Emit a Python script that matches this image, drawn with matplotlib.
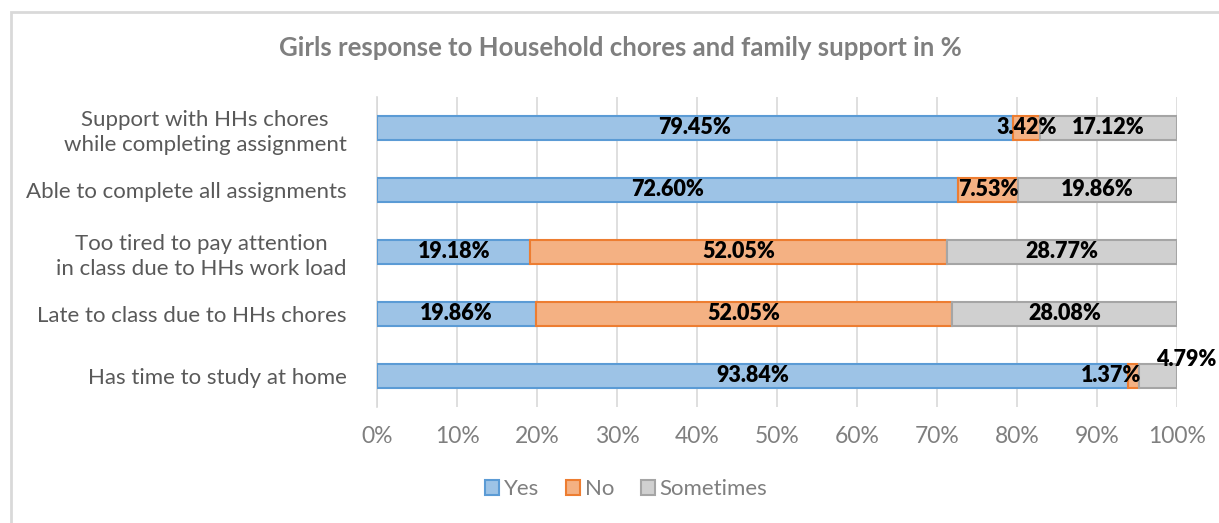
import matplotlib.pyplot as plt
from matplotlib.patches import Rectangle

# Data (top to bottom as shown)
questions = ['Support with HHs chores\nwhile completing assignment',
             'Able to complete all assignments',
             'Too tired to pay attention\nin class due to HHs work load',
             'Late to class due to HHs chores',
             'Has time to study at home']
yes = [79.45, 72.60, 19.18, 19.86, 93.84]
no = [3.42, 7.53, 52.05, 52.05, 1.37]
sometimes = [17.12, 19.86, 28.77, 28.08, 4.79]
ticks = [0, 10, 20, 30, 40, 50, 60, 70, 80, 90, 100]

plt.rcParams['font.family'] = ['Lato', 'DejaVu Sans']

fig = plt.figure(figsize=(12.19, 5.23), dpi=100)
W, H = 1219, 523
ax = fig.add_axes([377 / W, 1 - 407 / H, 800 / W, 310 / H])

ypos = list(range(len(questions)))[::-1]
series = [('Yes', yes, '#9DC3E6', '#5B9BD5'),
          ('No', no, '#F4B183', '#ED7D31'),
          ('Sometimes', sometimes, '#D0D0D0', '#A5A5A5')]
left = [0] * len(questions)
for name, vals, fc, ec in series:
    ax.barh(ypos, vals, left=left, height=0.39, color=fc, edgecolor=ec,
            linewidth=1.5, label=name, zorder=3)
    for i, v in enumerate(vals):
        x = left[i] + v / 2
        y = ypos[i]
        dx, dy = 0, 0
        if i == 4 and name == 'No':
            dx = -2.8
        if i == 4 and name == 'Sometimes':
            dx, dy = 3.6, 0.27
        ax.text(x + dx, y + dy, f'{v:.2f}%', ha='center', va='center',
                fontsize=15.5, fontweight='heavy', color='black', zorder=5)
    left = [l + v for l, v in zip(left, vals)]

ax.set_xlim(0, 100)
ax.set_ylim(-0.5, 4.5)
ax.set_xticks(ticks)
ax.set_xticklabels([f'{t}%' for t in ticks], fontsize=16.5, color='#7F7F7F')
ax.set_yticks(ypos)
ax.set_yticklabels(questions, fontsize=16, color='#595959', ha='right',
                   multialignment='center', linespacing=1.3)
ax.tick_params(axis='y', length=0, pad=22)
ax.tick_params(axis='x', length=0, pad=14)
ax.xaxis.grid(True, color='#D9D9D9', linewidth=1.2, zorder=0)
for s in ['top', 'right', 'bottom']:
    ax.spines[s].set_visible(False)
ax.spines['left'].set_color('#D9D9D9')
ax.spines['left'].set_linewidth(1.2)

fig.text(620 / W, 1 - 48 / H, 'Girls response to Household chores and family support in %',
         ha='center', va='center', fontsize=18.5, fontweight='bold', color='#7F7F7F')

leg = fig.legend(loc='center', bbox_to_anchor=(626 / W, 1 - 489 / H), ncol=3,
                 frameon=False, fontsize=16, handlelength=0.65, handleheight=0.65,
                 handletextpad=0.2, columnspacing=1.2, labelcolor='#7F7F7F')

fig.patches.append(Rectangle((11 / W, -0.1), 2, 1.1 - 12 / H,
                             transform=fig.transFigure, fill=False,
                             edgecolor='#D9D9D9', linewidth=2))

fig.savefig('out.png', dpi=100)
